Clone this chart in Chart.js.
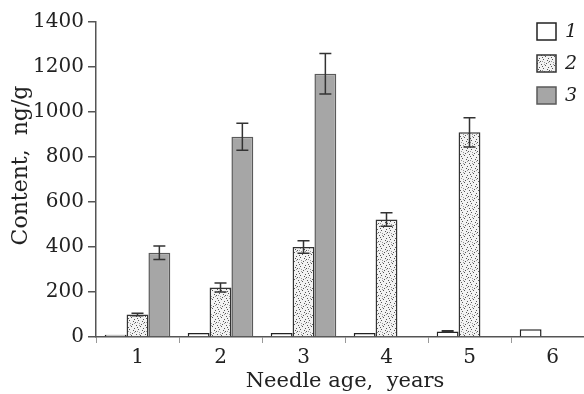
<!DOCTYPE html>
<html lang="en">
<head>
  <meta charset="UTF-8" />
  <title>Needle content chart</title>
  <script src="https://cdn.jsdelivr.net/npm/chart.js"></script>
  <style>
    body {
      margin: 0;
      padding: 0;
      background: #fff;
      overflow: hidden;
    }
    #wrap {
      width: 600px;
      height: 394px;
    }
  </style>
</head>
<body>
  <div id="wrap">
    <canvas id="needleChart" width="600" height="394"></canvas>
  </div>
  <script>
    // Chart data
    const ages = ['1', '2', '3', '4', '5', '6'];
    const seriesNames = ['1', '2', '3'];
    const series1 = [10, 18, 18, 18, 25, 35];
    const series2 = [100, 220, 400, 522, 910, null];
    const series3 = [375, 890, 1170, null, null, null];
    const err1 = [0, 0, 0, 0, 3, 0];
    const err2 = [6, 20, 28, 30, 65, 0];
    const err3 = [30, 60, 90, 0, 0, 0];
    const yTicks = [0, 200, 400, 600, 800, 1000, 1200, 1400];

    // Stippled fill for series 2
    function makeStipple() {
      const c = document.createElement('canvas');
      c.width = 9;
      c.height = 9;
      const g = c.getContext('2d');
      g.fillStyle = '#f2f2f2';
      g.fillRect(0, 0, 9, 9);
      g.fillStyle = '#555';
      const dots = [[1, 1], [5, 2], [3, 5], [7, 6], [0, 7], [6, 0], [2, 3], [8, 4]];
      dots.forEach(d => g.fillRect(d[0], d[1], 1, 1));
      g.fillStyle = '#999';
      [[4, 8], [8, 8], [2, 7], [4, 1]].forEach(d => g.fillRect(d[0], d[1], 1, 1));
      return g.createPattern(c, 'repeat');
    }

    // Error bars drawn through the chart's own scales
    const errorBars = {
      id: 'errorBars',
      afterDatasetsDraw(chart) {
        const ctx = chart.ctx;
        const y = chart.scales.y;
        const errs = [err1, err2, err3];
        ctx.save();
        ctx.strokeStyle = '#333';
        ctx.lineWidth = 1.5;
        chart.data.datasets.forEach((ds, i) => {
          const meta = chart.getDatasetMeta(i);
          meta.data.forEach((bar, j) => {
            const v = ds.data[j];
            const e = errs[i][j];
            if (v === null || !e) return;
            const x = bar.x;
            const top = y.getPixelForValue(v + e);
            const bot = y.getPixelForValue(v - e);
            ctx.beginPath();
            ctx.moveTo(x, top);
            ctx.lineTo(x, bot);
            ctx.moveTo(x - 6, top);
            ctx.lineTo(x + 6, top);
            ctx.moveTo(x - 6, bot);
            ctx.lineTo(x + 6, bot);
            ctx.stroke();
          });
        });
        ctx.restore();
      }
    };

    // Legend inside the plot, top right
    const innerLegend = {
      id: 'innerLegend',
      afterDraw(chart) {
        const ctx = chart.ctx;
        ctx.save();
        chart.data.datasets.forEach((ds, i) => {
          const bx = 537, by = 23 + i * 32;
          ctx.fillStyle = ds.backgroundColor;
          ctx.fillRect(bx, by, 19, 17);
          ctx.strokeStyle = ds.borderColor;
          ctx.lineWidth = 1.5;
          ctx.strokeRect(bx, by, 19, 17);
          ctx.fillStyle = '#222';
          ctx.font = 'italic 19px "DejaVu Serif"';
          ctx.textBaseline = 'middle';
          ctx.fillText(ds.label, bx + 28, by + 9);
        });
        ctx.restore();
      }
    };

    Chart.defaults.font.family = '"DejaVu Serif", serif';
    Chart.defaults.font.size = 20;
    Chart.defaults.color = '#222';

    const ctx = document.getElementById('needleChart').getContext('2d');
    new Chart(ctx, {
      type: 'bar',
      data: {
        labels: ages,
        datasets: [
          {
            label: seriesNames[0],
            data: series1,
            backgroundColor: '#ffffff',
            borderColor: '#222',
            borderWidth: 1.5
          },
          {
            label: seriesNames[1],
            data: series2,
            backgroundColor: makeStipple(),
            borderColor: '#333',
            borderWidth: 1.5
          },
          {
            label: seriesNames[2],
            data: series3,
            backgroundColor: '#a6a6a6',
            borderColor: '#5a5a5a',
            borderWidth: 1.5
          }
        ]
      },
      options: {
        responsive: false,
        devicePixelRatio: 1,
        animation: false,
        layout: { padding: { top: 22, right: 6, left: 0, bottom: 0 } },
        categoryPercentage: 0.79,
        barPercentage: 1.0,
        plugins: {
          legend: { display: false },
          tooltip: { enabled: false }
        },
        scales: {
          x: {
            grid: {
              display: true,
              offset: true,
              drawOnChartArea: false,
              tickLength: 6,
              color: '#999',
              lineWidth: 1
            },
            border: { color: '#555', width: 1.5 },
            ticks: { padding: 3, color: '#222' },
            title: {
              display: true,
              text: 'Needle age,  years',
              font: { size: 21 },
              padding: { top: 0, bottom: 0 },
              color: '#222'
            },
            afterFit(scale) { scale.height = 57; }
          },
          y: {
            min: 0,
            max: 1400,
            afterBuildTicks(scale) {
              scale.ticks = yTicks.map(v => ({ value: v }));
            },
            grid: {
              display: true,
              drawOnChartArea: false,
              tickLength: 8,
              color: '#555',
              lineWidth: 1.5
            },
            border: { color: '#555', width: 1.5 },
            ticks: {
              padding: 4,
              color: '#222',
              callback: v => String(v)
            },
            title: {
              display: true,
              text: '    Content,  ng/g',
              font: { size: 22 },
              padding: { top: 8, bottom: 0 },
              color: '#222'
            },
            afterFit(scale) { scale.width = 96; }
          }
        }
      },
      plugins: [errorBars, innerLegend]
    });
  </script>
</body>
</html>
